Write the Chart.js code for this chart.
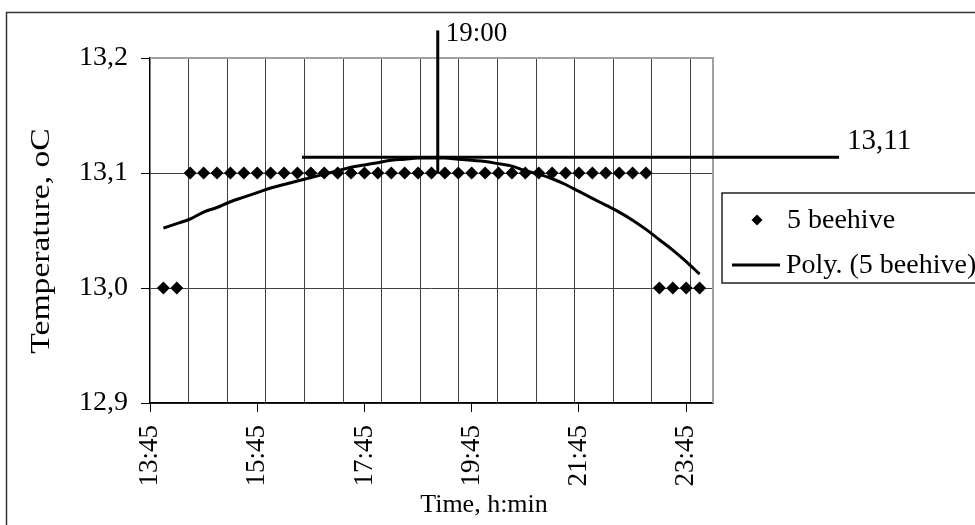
<!DOCTYPE html>
<html>
<head>
<meta charset="utf-8">
<title>5 beehive temperature</title>
<script src="https://cdn.jsdelivr.net/npm/chart.js@4.4.1/dist/chart.umd.min.js"></script>
<style>
  html, body { margin: 0; padding: 0; background: #fff; }
  #chart { display: block; }
</style>
</head>
<body>
<canvas id="chart" width="975" height="525"></canvas>
<script>
// measurement times, every 15 min
const times = [
    '14:00', '14:15', '14:30', '14:45', '15:00', '15:15', '15:30', '15:45',
    '16:00', '16:15', '16:30', '16:45', '17:00', '17:15', '17:30', '17:45',
    '18:00', '18:15', '18:30', '18:45', '19:00', '19:15', '19:30', '19:45',
    '20:00', '20:15', '20:30', '20:45', '21:00', '21:15', '21:30', '21:45',
    '22:00', '22:15', '22:30', '22:45', '23:00', '23:15', '23:30', '23:45',
    '0:00'
];
// 5 beehive temperature, oC
const temps = [
    13.0, 13.0, 13.1, 13.1, 13.1, 13.1, 13.1, 13.1,
    13.1, 13.1, 13.1, 13.1, 13.1, 13.1, 13.1, 13.1,
    13.1, 13.1, 13.1, 13.1, 13.1, 13.1, 13.1, 13.1,
    13.1, 13.1, 13.1, 13.1, 13.1, 13.1, 13.1, 13.1,
    13.1, 13.1, 13.1, 13.1, 13.1, 13.0, 13.0, 13.0,
    13.0
];
// polynomial trend
const trend = [
    13.052, 13.056, 13.060, 13.066, 13.070, 13.075, 13.079, 13.083,
    13.087, 13.090, 13.093, 13.096, 13.099, 13.102, 13.105, 13.107,
    13.109, 13.111, 13.112, 13.113, 13.113, 13.113, 13.112, 13.111,
    13.110, 13.108, 13.106, 13.102, 13.099, 13.095, 13.090, 13.084,
    13.078, 13.072, 13.066, 13.059, 13.051, 13.042, 13.033, 13.023,
    13.012
];
const xTickLabels = ['13:45', '15:45', '17:45', '19:45', '21:45', '23:45'];
const yTicks = [12.9, 13.0, 13.1, 13.2];
const xMin = '13:45', xMax = '0:15';
const gridStepMin = 43.2; // 0.03 day

// marker lines
const peakTime = '19:07', peakLabel = '19:00';
const peakLevel = 13.1137, peakLevelLabel = '13,11';
const levelFrom = '16:35', levelTo = '2:36';

const FONT = "'Liberation Serif', 'Times New Roman', serif";

function toMin(t) {
    const [h, m] = t.split(':').map(Number);
    return (h < 12 ? h + 24 : h) * 60 + m;
}
function fmtTime(v) {
    const h = Math.floor(v / 60) % 24, m = Math.round(v % 60);
    return h + ':' + String(m).padStart(2, '0');
}

const decor = {
    id: 'decor',
    beforeDatasetsDraw(chart) {
        const { ctx, chartArea: a } = chart;
        ctx.save();
        ctx.strokeStyle = '#a0a0a0';
        ctx.lineWidth = 2;
        ctx.beginPath();
        ctx.moveTo(a.left, a.top);
        ctx.lineTo(a.right, a.top);
        ctx.lineTo(a.right, a.bottom);
        ctx.stroke();
        ctx.restore();
    },
    afterDraw(chart) {
        const { ctx, scales } = chart;
        const x = scales.x, y = scales.y;
        ctx.save();
        // outer frame
        ctx.strokeStyle = '#333';
        ctx.lineWidth = 1.5;
        ctx.strokeRect(6.5, 12.5, 1000, 600);

        ctx.fillStyle = '#000';
        ctx.textBaseline = 'middle';
        // axis titles
        ctx.font = '26px ' + FONT;
        ctx.textAlign = 'center';
        ctx.fillText('Time, h:min', 484, 505);
        ctx.save();
        ctx.translate(42, 241);
        ctx.rotate(-Math.PI / 2);
        ctx.scale(1.2, 1);
        ctx.font = '28px ' + FONT;
        ctx.fillText('Temperature, oC', 0, 0);
        ctx.restore();

        // marker labels
        ctx.textAlign = 'left';
        ctx.font = '27px ' + FONT;
        ctx.fillText(peakLabel, x.getPixelForValue(toMin(peakTime)) + 8, 34);
        ctx.font = '29px ' + FONT;
        ctx.fillText(peakLevelLabel, x.getPixelForValue(toMin(levelTo)) + 8, y.getPixelForValue(peakLevel) - 16);

        // legend
        const ds = chart.data.datasets;
        ctx.strokeStyle = '#222';
        ctx.lineWidth = 1.5;
        ctx.strokeRect(722, 193, 300, 90);
        ctx.beginPath();
        ctx.moveTo(757 - 5.5, 220);
        ctx.lineTo(757, 220 - 5.5);
        ctx.lineTo(757 + 5.5, 220);
        ctx.lineTo(757, 220 + 5.5);
        ctx.closePath();
        ctx.fill();
        ctx.lineWidth = 3;
        ctx.strokeStyle = '#000';
        ctx.beginPath();
        ctx.moveTo(732, 265);
        ctx.lineTo(780, 265);
        ctx.stroke();
        ctx.font = '28px ' + FONT;
        ctx.fillText(ds[0].label, 787, 221);
        ctx.fillText(ds[1].label, 786, 266);
        ctx.restore();
    }
};

new Chart(document.getElementById('chart'), {
    type: 'line',
    data: {
        datasets: [
            {
                label: '5 beehive',
                data: times.map((t, i) => ({ x: toMin(t), y: temps[i] })),
                showLine: false,
                pointStyle: 'rectRot',
                pointRadius: 6.5,
                pointBackgroundColor: '#000',
                pointBorderColor: '#000',
                pointBorderWidth: 0
            },
            {
                label: 'Poly. (5 beehive)',
                data: times.map((t, i) => ({ x: toMin(t), y: trend[i] })),
                borderColor: '#000',
                borderWidth: 3,
                pointRadius: 0,
                tension: 0.4
            },
            {
                label: 'peak time',
                data: [{ x: toMin(peakTime), y: 13.1 }, { x: toMin(peakTime), y: 13.224 }],
                borderColor: '#000',
                borderWidth: 3,
                pointRadius: 0,
                clip: false
            },
            {
                label: 'peak level',
                data: [{ x: toMin(levelFrom), y: peakLevel }, { x: toMin(levelTo), y: peakLevel }],
                borderColor: '#000',
                borderWidth: 3,
                pointRadius: 0,
                clip: false
            }
        ]
    },
    options: {
        responsive: false,
        devicePixelRatio: 1,
        animation: false,
        layout: { padding: { left: 0, top: 58, right: 262, bottom: 0 } },
        plugins: { legend: { display: false }, tooltip: { enabled: false } },
        scales: {
            x: {
                type: 'linear',
                position: 'bottom',
                min: toMin(xMin),
                max: toMin(xMax),
                afterBuildTicks: s => { s.ticks = xTickLabels.map(t => ({ value: toMin(t) })); },
                afterFit: s => { s.height = 122; },
                grid: { drawOnChartArea: false, tickLength: 9, color: '#000' },
                border: { color: '#000', width: 1.5 },
                ticks: {
                    autoSkip: false, minRotation: 90, maxRotation: 90, padding: 13,
                    color: '#000', font: { family: FONT, size: 27 },
                    callback: v => fmtTime(v)
                }
            },
            xg: {
                type: 'linear',
                position: 'bottom',
                min: toMin(xMin),
                max: toMin(xMax),
                afterBuildTicks: s => {
                    const t = [];
                    for (let v = toMin(xMin) + gridStepMin; v < toMin(xMax) - 1; v += gridStepMin) t.push({ value: v });
                    s.ticks = t;
                },
                afterFit: s => { s.height = 0; },
                grid: { color: '#404040', drawTicks: false },
                border: { display: false },
                ticks: { display: false }
            },
            y: {
                min: 12.9,
                max: 13.2,
                afterBuildTicks: s => { s.ticks = yTicks.map(v => ({ value: v })); },
                afterFit: s => { s.width = 150; },
                grid: { color: '#404040', tickLength: 9, tickColor: '#000' },
                border: { color: '#000', width: 1.5 },
                ticks: {
                    padding: 13, color: '#000', font: { family: FONT, size: 28 },
                    callback: v => v.toFixed(1).replace('.', ',')
                }
            }
        }
    },
    plugins: [decor]
});
</script>
</body>
</html>
